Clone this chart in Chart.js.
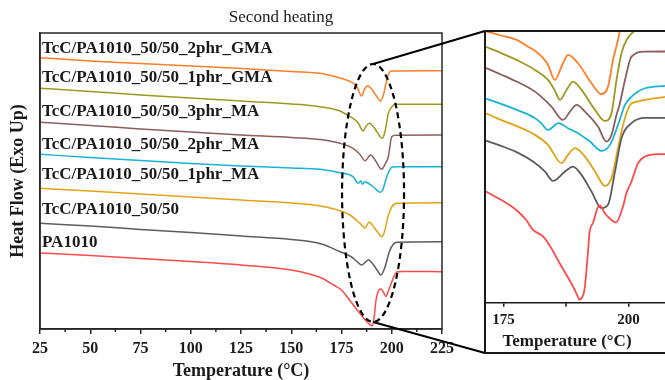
<!DOCTYPE html>
<html>
<head>
<meta charset="utf-8">
<script src="https://cdn.jsdelivr.net/npm/chart.js@4.4.1/dist/chart.umd.min.js"></script>
<style>
  html, body { margin: 0; padding: 0; background: #fff; overflow: hidden; }
  #wrap { position: relative; width: 665px; height: 380px; }
  #main { position: absolute; left: 0; top: 0; }
  #zoom { position: absolute; left: 484px; top: 30px; }
</style>
</head>
<body>
<div id="wrap">
  <canvas id="main" width="665" height="380"></canvas>
  <canvas id="zoom" width="181" height="325"></canvas>
</div>
<script>
// series, bottom to top
const seriesNames = [
  'PA1010',
  'TcC/PA1010_50/50',
  'TcC/PA1010_50/50_1phr_MA',
  'TcC/PA1010_50/50_2phr_MA',
  'TcC/PA1010_50/50_3phr_MA',
  'TcC/PA1010_50/50_1phr_GMA',
  'TcC/PA1010_50/50_2phr_GMA'
];
const seriesColors = ['#ff4a4a', '#5c5c5c', '#e2a414', '#16b3d6', '#8c5d5d', '#9d991e', '#ff7f2a'];

// main plot: [temperature (°C), heat flow (a.u., shifted)]
const pa1010 = [[25,76],[50,73.5],[75,70.5],[100,67.5],[125,64],[150,59],[165,51],[171,44],[175,39],[179,29],[184,16],[187.5,7.5],[190.3,3],[191.2,11],[192.2,29],[193.3,38],[194.5,40],[195.8,37],[197.1,32.5],[198.5,39],[200,47],[202.5,57],[205,57.5],[225,57.3]];
const blend = [[25,105.7],[50,103],[75,99.5],[100,96.5],[125,93],[150,89.5],[165,85],[174.3,77.3],[180,72],[183,67],[185,64],[188.4,69],[191,64],[193,58],[194.6,54],[196.5,61],[198.8,77.3],[200.5,84],[202.5,86.7],[225,87.3]];
const ma1 = [[25,140.7],[50,138],[75,135],[100,132],[125,129],[150,126],[164.3,123],[174.3,118.3],[179.2,114],[184.2,105.7],[186.7,101],[188.8,107],[191,102],[193,97],[195,92.3],[196.5,98],[197.5,107.3],[198.5,115],[200,122],[202.5,125.7],[225,126.3]];
const ma2 = [[25,174.7],[50,171.5],[75,168.5],[100,165.5],[125,163],[150,161],[164.3,159.7],[174.3,156.3],[180.7,152.3],[183.4,145.7],[184.5,148.3],[185.5,144.7],[186.5,147.3],[188.5,145.5],[191,142],[194.2,136.7],[195.5,139],[197.5,152.3],[200,161.7],[202,162.3],[225,162.3]];
const ma3 = [[25,206.7],[50,203.5],[75,200],[100,197],[125,194],[150,191.5],[164.3,189.5],[174.3,185.7],[180.7,180.7],[184,175],[186.7,168.3],[189.5,174],[192,168],[195,159.7],[196.7,165],[198.3,172.3],[200,192.3],[202,193.8],[225,194]];
const gma1 = [[25,240.7],[50,237.5],[75,234],[100,231],[125,228],[150,225],[164,222.3],[174.3,218],[179.2,212.3],[183,207],[185.8,198],[187,202],[188.8,205.7],[191,202],[193,196],[195.3,190.7],[196.7,198],[198.3,215.7],[200,222],[201.6,224.7],[225,224.7]];
const gma2 = [[25,271.3],[50,268],[75,265.5],[100,263],[125,260.5],[150,257.5],[165,255.5],[175,250.5],[181,245.5],[183,241],[185,233],[186.5,240],[188,243.3],[190,240],[192,234],[194.6,228],[196,235],[197.3,247.3],[199.1,257.3],[201,258],[225,258.3]];

// inset (melting region, own vertical offsets)
const pa1010Zoom = [[171.5,111.3],[174.5,103],[177.5,93],[179.5,83],[180.9,73],[182.9,66.3],[184.5,55],[186.2,39.7],[188.9,16.3],[189.7,8],[190.2,3],[190.8,6],[191.2,13],[191.8,45],[192.2,70],[192.9,80],[193.9,96],[194.3,97.5],[195.2,90],[196.3,84],[197.5,80.3],[198.9,96.3],[199.6,110],[200.6,121.3],[201.9,139.7],[203.3,146.3],[205,148.5],[207.3,148.7]];
const blendZoom = [[171.5,162.3],[174.5,157],[177.5,151],[180.9,141.3],[183.3,131.3],[184.9,122],[187.3,131.3],[188.9,136.3],[190.6,128],[192.6,111.3],[194.6,94.7],[195.9,98],[197.3,131.3],[198.6,164.7],[200.6,179.7],[203.3,185],[207.3,185]];
const ma1Zoom = [[171.5,189.7],[174.5,183],[177.5,177],[181.3,168],[183.9,158],[186.6,139.7],[187.9,148],[189.3,154.7],[191.3,146.3],[193.3,131.3],[195.3,117],[196.6,124.7],[197.9,154.7],[198.9,178],[200.3,198],[201.5,201],[203.3,203],[207.3,206]];
const ma2Zoom = [[171.5,204.3],[174.5,199],[177.5,193.3],[181.3,184.7],[182.5,180],[183.9,173],[186,179.7],[187.9,174.7],[189.9,169.7],[192.3,161.3],[194.6,152],[196.3,158],[197.9,178],[199.3,198],[200.6,206.3],[203.3,214.7],[207.3,217]];
const ma3Zoom = [[171.5,235],[174.5,228.5],[177.5,221.7],[181.3,211.3],[184.6,196.3],[186.9,183],[188.3,191.3],[189.6,198],[191.3,191.3],[193.9,176.3],[195.6,161.3],[196.6,168],[197.6,188],[198.2,198],[199.3,223],[200.6,246.3],[203.3,251.3],[207.3,251.5]];
const gma1Zoom = [[171.5,256],[174.5,250],[177.5,243.3],[181.3,233],[183.9,223],[185.2,213],[186.3,203],[187.6,213],[188.9,221.3],[190.6,213],[193.3,193],[195.3,182],[196.6,189.7],[197.6,223],[198.6,249.7],[199.6,263],[201.2,272],[203,275],[207.3,275]];
const gma2Zoom = [[171.5,271.7],[174.5,267.5],[177.5,263.3],[180,256],[181.5,251.5],[182.7,246],[183.9,238],[185.3,223],[186.6,236.3],[187.9,248],[189.9,239.7],[192.6,219.7],[194.6,208.7],[195.9,216.3],[196.9,243],[197.9,263],[198.8,285],[200,300],[207.3,300]];

const mainTicks = [25, 50, 75, 100, 125, 150, 175, 200, 225];
const mainMinor = [37.5, 62.5, 87.5, 112.5, 137.5, 162.5, 187.5, 212.5];
const zoomTicks = [175, 200];
const zoomMinor = [187.5];

const mainSeries = [pa1010, blend, ma1, ma2, ma3, gma1, gma2];
const zoomSeries = [pa1010Zoom, blendZoom, ma1Zoom, ma2Zoom, ma3Zoom, gma1Zoom, gma2Zoom];

Chart.defaults.font.family = '"Liberation Serif", "Times New Roman", serif';
Chart.defaults.color = '#1a1a1a';

function toSets(list, width) {
  return list.map((pts, i) => ({
    label: seriesNames[i],
    data: pts.map(p => ({ x: p[0], y: p[1] })),
    borderColor: seriesColors[i],
    borderWidth: width,
    pointRadius: 0,
    fill: false,
    cubicInterpolationMode: 'monotone'
  }));
}

const labelY = [243, 210, 175, 145, 112, 78, 49];

const mainDecor = {
  id: 'mainDecor',
  afterDraw(chart) {
    const { ctx, chartArea: a, scales: { x } } = chart;
    ctx.save();
    ctx.strokeStyle = '#262626';
    ctx.lineWidth = 1.5;
    ctx.strokeRect(a.left, a.top, a.right - a.left, a.bottom - a.top);
    ctx.beginPath();
    mainMinor.forEach(v => {
      const px = x.getPixelForValue(v);
      ctx.moveTo(px, a.bottom);
      ctx.lineTo(px, a.bottom + 3);
    });
    ctx.stroke();

    ctx.fillStyle = '#1a1a1a';
    ctx.textBaseline = 'middle';
    ctx.font = 'bold 17px "Liberation Serif"';
    labelY.forEach((py, i) => ctx.fillText(seriesNames[i], a.left + 2, py));

    ctx.font = '17px "Liberation Serif"';
    ctx.textAlign = 'center';
    ctx.fillText('Second heating', 281, 18);

    // dashed ellipse round the melting peaks, and the lines out to the inset
    const cx = x.getPixelForValue(190.7), cy = 193;
    ctx.strokeStyle = '#000';
    ctx.lineWidth = 2.2;
    ctx.setLineDash([6, 4]);
    ctx.beginPath();
    ctx.ellipse(cx, cy, 31, 129, 0, 0, Math.PI * 2);
    ctx.stroke();
    ctx.setLineDash([]);
    ctx.lineWidth = 2;
    ctx.beginPath();
    ctx.moveTo(cx, cy - 129); ctx.lineTo(485, 31);
    ctx.moveTo(cx, cy + 129); ctx.lineTo(485, 353);
    ctx.stroke();
    ctx.restore();
  }
};

new Chart(document.getElementById('main'), {
  type: 'line',
  data: { datasets: toSets(mainSeries, 1.5) },
  options: {
    responsive: false,
    animation: false,
    devicePixelRatio: 1,
    layout: { padding: { top: 33, right: 223, bottom: 0, left: 0 } },
    plugins: { legend: { display: false }, tooltip: { enabled: false } },
    scales: {
      x: {
        type: 'linear', min: 25, max: 225,
        afterBuildTicks: s => { s.ticks = mainTicks.map(v => ({ value: v })); },
        afterFit: s => { s.height = 51; },
        grid: { drawOnChartArea: false, drawTicks: true, tickLength: 5, color: '#262626', lineWidth: 1.5 },
        border: { display: true, color: '#262626', width: 1.5 },
        ticks: { font: { size: 16, weight: 'bold' }, padding: 5, maxRotation: 0 },
        title: { display: true, text: 'Temperature (°C)', font: { size: 18, weight: 'bold', lineHeight: 1 }, padding: { top: 0, bottom: 0 } }
      },
      y: {
        min: 0, max: 296,
        afterFit: s => { s.width = 40; },
        grid: { display: false },
        border: { display: true, color: '#262626', width: 1.5 },
        ticks: { display: false },
        title: { display: true, text: 'Heat Flow (Exo Up)', font: { size: 18, weight: 'bold', lineHeight: 1 }, padding: { top: 9, bottom: 0 } }
      }
    }
  },
  plugins: [mainDecor]
});

const zoomDecor = {
  id: 'zoomDecor',
  afterDraw(chart) {
    const { ctx, chartArea: a, scales: { x }, width, height } = chart;
    ctx.save();
    ctx.strokeStyle = '#1a1a1a';
    ctx.lineWidth = 2;
    ctx.beginPath();
    ctx.moveTo(width, 1); ctx.lineTo(1, 1); ctx.lineTo(1, height - 2); ctx.lineTo(width, height - 2);
    ctx.stroke();
    ctx.lineWidth = 1.5;
    ctx.beginPath();
    zoomMinor.forEach(v => {
      const px = x.getPixelForValue(v);
      ctx.moveTo(px, a.bottom);
      ctx.lineTo(px, a.bottom + 4);
    });
    ctx.stroke();
    ctx.fillStyle = '#1a1a1a';
    ctx.font = 'bold 17px "Liberation Serif"';
    ctx.textAlign = 'center';
    ctx.textBaseline = 'middle';
    ctx.fillText('Temperature (°C)', 83, 312);
    ctx.restore();
  }
};

new Chart(document.getElementById('zoom'), {
  type: 'line',
  data: { datasets: toSets(zoomSeries, 1.8) },
  options: {
    responsive: false,
    animation: false,
    devicePixelRatio: 1,
    layout: { padding: { top: 1, right: 0, bottom: 0, left: 1 } },
    plugins: { legend: { display: false }, tooltip: { enabled: false } },
    scales: {
      x: {
        type: 'linear', min: 171.3, max: 207.3,
        afterBuildTicks: s => { s.ticks = zoomTicks.map(v => ({ value: v })); },
        afterFit: s => { s.height = 52.3; },
        grid: { drawOnChartArea: false, drawTicks: true, tickLength: 4, color: '#1a1a1a', lineWidth: 1.5 },
        border: { display: true, color: '#1a1a1a', width: 1.5 },
        ticks: { font: { size: 15, weight: 'bold' }, padding: 4, maxRotation: 0 }
      },
      y: { display: false, min: 0, max: 272 }
    }
  },
  plugins: [zoomDecor]
});
</script>
</body>
</html>
